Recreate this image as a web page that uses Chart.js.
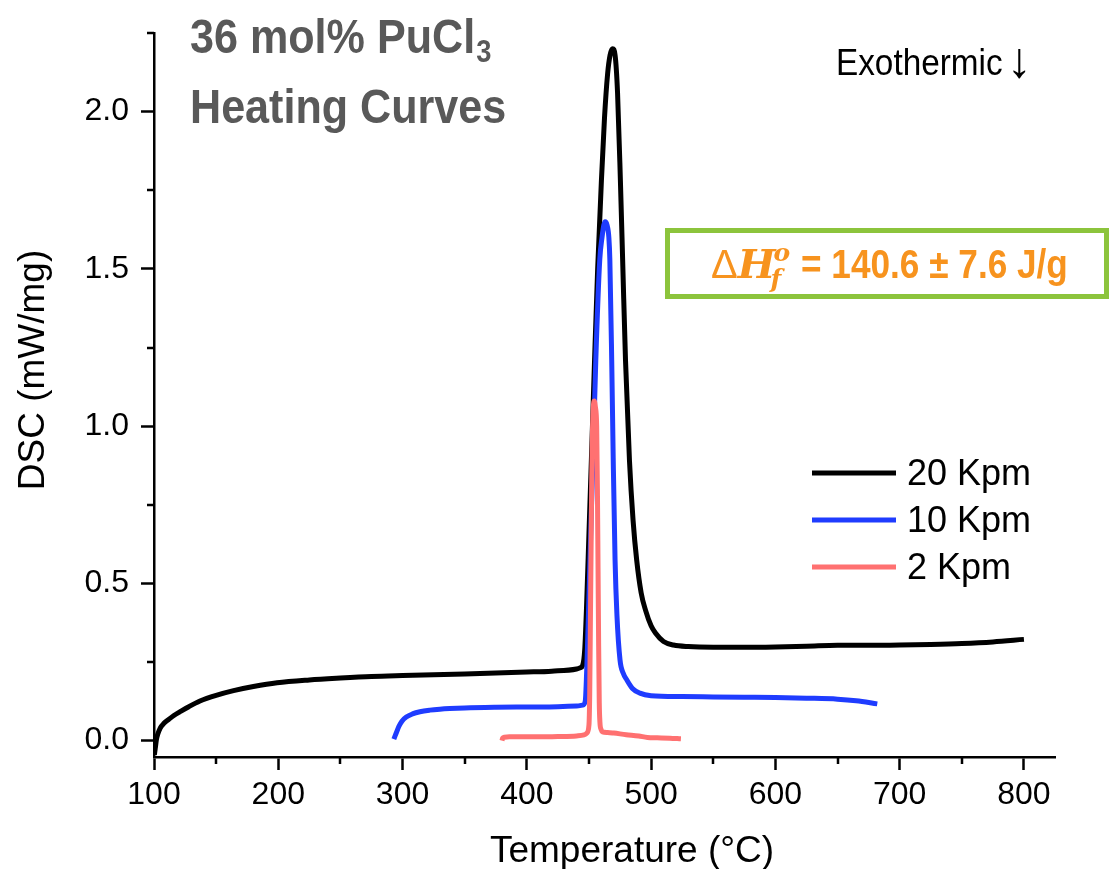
<!DOCTYPE html>
<html>
<head>
<meta charset="utf-8">
<script src="https://cdn.jsdelivr.net/npm/chart.js@4.4.1/dist/chart.umd.min.js"></script>
<style>
  html, body { margin: 0; padding: 0; background: #fff; }
</style>
</head>
<body>
<canvas id="dscChart" width="1110" height="869"></canvas>
<script>
// Series labels and colours
const seriesLabels = ['20 Kpm', '10 Kpm', '2 Kpm'];
const seriesColors = ['#000000', '#1f3cff', '#ff7171'];

// 20 Kpm heating curve (temperature in C, DSC in mW/mg)
const temp20 = [100.3, 101, 102, 103, 105, 108, 112, 116, 121, 128, 137, 150, 164, 180, 199, 225, 250, 275, 300,
  350, 400, 420, 440, 443, 445, 446.6, 448, 450, 452, 454.5, 457, 460, 462.5, 465, 467, 469, 471, 473, 475.3,
  477.3, 479.4, 482.6, 485.5, 488.4, 492, 495.5, 500, 503.5, 510, 518, 530, 550, 575, 600, 625, 650, 675, 700,
  725, 750, 775, 800];
const dsc20 = [-0.045, -0.025, 0.005, 0.02, 0.04, 0.055, 0.068, 0.08, 0.092, 0.108, 0.126, 0.144, 0.159, 0.172, 0.184,
  0.193, 0.199, 0.204, 0.207, 0.212, 0.218, 0.221, 0.228, 0.232, 0.24, 0.29, 0.42, 0.66, 0.9, 1.21, 1.5, 1.78,
  1.98, 2.12, 2.18, 2.2, 2.18, 2.06, 1.78, 1.5, 1.21, 0.89, 0.7, 0.574, 0.47, 0.415, 0.365, 0.342, 0.315, 0.304,
  0.299, 0.297, 0.297, 0.298, 0.3, 0.303, 0.303, 0.304, 0.306, 0.309, 0.314, 0.322];

// 10 Kpm heating curve
const temp10 = [293, 295, 297, 299.5, 303, 308, 314, 322, 330, 338, 350, 375, 400, 425, 440, 445, 447, 448.5, 450,
  452, 454, 455.5, 458.7, 460.5, 462, 463, 464.5, 466, 466.8, 468.3, 469.5, 471, 472.5, 475, 477.5, 480.5, 485,
  491, 500, 525, 550, 575, 600, 625, 650, 665, 682];
const dsc10 = [0.005, 0.025, 0.045, 0.062, 0.075, 0.085, 0.092, 0.097, 0.1, 0.102, 0.104, 0.106, 0.107, 0.108, 0.11,
  0.113, 0.125, 0.26, 0.46, 0.74, 1.0, 1.21, 1.53, 1.6, 1.64, 1.65, 1.64, 1.6, 1.53, 1.21, 0.9, 0.574, 0.4, 0.256,
  0.215, 0.193, 0.166, 0.151, 0.143, 0.14, 0.139, 0.138, 0.137, 0.135, 0.132, 0.127, 0.117];

// 2 Kpm heating curve
const temp2 = [380, 380.5, 382, 386, 395, 410, 425, 440, 446, 448.5, 450, 450.6, 451.2, 451.8, 452.3, 452.8, 453.5,
  454.3, 455.2, 456.2, 456.8, 457.3, 457.8, 458.3, 458.8, 459.8, 461, 465, 470, 480, 490, 497, 505, 515, 524];
const dsc2 = [0.0, 0.008, 0.011, 0.012, 0.012, 0.012, 0.013, 0.015, 0.018, 0.025, 0.05, 0.15, 0.4, 0.65, 0.85, 0.98,
  1.06, 1.08, 1.06, 1.0, 0.8, 0.55, 0.3, 0.12, 0.06, 0.035, 0.028, 0.026, 0.024, 0.019, 0.015, 0.01, 0.009, 0.008,
  0.006];

// Axis ticks
const xTickValues = [100, 200, 300, 400, 500, 600, 700, 800];
const xMinorTicks = [150, 250, 350, 450, 550, 650, 750];
const yTickValues = [0, 0.5, 1.0, 1.5, 2.0];
const yMinorTicks = [0.25, 0.75, 1.25, 1.75, 2.25];

const seriesTemps = [temp20, temp10, temp2];
const seriesDsc = [dsc20, dsc10, dsc2];

const FONT = "'Liberation Sans', Arial, sans-serif";
Chart.defaults.font.family = FONT;
Chart.defaults.color = '#000';

function toPoints(xs, ys) {
    return xs.map((x, i) => ({ x: x, y: ys[i] }));
}

// draw text squeezed horizontally, like a narrow bold face
function narrowText(ctx, text, x, y, squeeze) {
    ctx.save();
    ctx.translate(x, y);
    ctx.scale(squeeze, 1);
    ctx.fillText(text, 0, 0);
    const w = ctx.measureText(text).width * squeeze;
    ctx.restore();
    return w;
}

// Text, minor ticks, legend and the enthalpy box
const decorations = {
    id: 'decorations',
    afterDraw(chart) {
        const ctx = chart.ctx;
        const xs = chart.scales.x;
        const ys = chart.scales.y;
        const area = chart.chartArea;
        ctx.save();

        // minor ticks
        ctx.strokeStyle = '#000';
        ctx.lineWidth = 2.5;
        ctx.beginPath();
        xMinorTicks.forEach(v => {
            const px = Math.round(xs.getPixelForValue(v));
            ctx.moveTo(px, area.bottom);
            ctx.lineTo(px, area.bottom + 7);
        });
        yMinorTicks.forEach(v => {
            const py = Math.round(ys.getPixelForValue(v));
            ctx.moveTo(area.left, py);
            ctx.lineTo(area.left - 7, py);
        });
        ctx.stroke();

        // axis titles
        ctx.fillStyle = '#000';
        ctx.font = '37px ' + FONT;
        ctx.textAlign = 'center';
        ctx.textBaseline = 'alphabetic';
        ctx.fillText('Temperature (\u00B0C)', 632, 862);
        ctx.save();
        ctx.translate(44, 370);
        ctx.rotate(-Math.PI / 2);
        ctx.fillText('DSC (mW/mg)', 0, 0);
        ctx.restore();

        // title
        ctx.textAlign = 'left';
        ctx.fillStyle = '#595959';
        ctx.font = 'bold 49px ' + FONT;
        const w1 = narrowText(ctx, '36 mol% PuCl', 190, 53, 0.88);
        ctx.font = 'bold 31px ' + FONT;
        narrowText(ctx, '3', 190 + w1 + 1, 62, 0.88);
        ctx.font = 'bold 49px ' + FONT;
        narrowText(ctx, 'Heating Curves', 190, 123, 0.88);

        // exothermic note
        ctx.fillStyle = '#000';
        ctx.font = '37px ' + FONT;
        narrowText(ctx, 'Exothermic', 836, 75, 0.9);
        ctx.font = '50px ' + FONT;
        ctx.fillText('\u2193', 1007, 77);

        // enthalpy box
        ctx.strokeStyle = '#8cc43c';
        ctx.lineWidth = 5;
        ctx.strokeRect(667.5, 230.5, 439, 66);
        ctx.fillStyle = '#f7931e';
        let x = 711;
        const base = 278;
        ctx.font = '40px ' + FONT;
        ctx.fillText('\u0394', x, base);
        x += ctx.measureText('\u0394').width;
        ctx.font = 'italic bold 40px "DejaVu Serif", "Liberation Serif", serif';
        ctx.fillText('H', x, base);
        x += ctx.measureText('H').width - 2;
        ctx.font = 'italic bold 25px "DejaVu Serif", "Liberation Serif", serif';
        ctx.fillText('o', x, base - 17);
        ctx.fillText('f', x - 3, base + 9);
        ctx.font = 'bold 40px ' + FONT;
        narrowText(ctx, '= 140.6 \u00B1 7.6 J/g', 801, base, 0.88);

        // legend
        const legendY = [473, 520, 567];
        seriesLabels.forEach((label, i) => {
            ctx.strokeStyle = seriesColors[i];
            ctx.lineWidth = 5;
            ctx.beginPath();
            ctx.moveTo(812, legendY[i]);
            ctx.lineTo(896, legendY[i]);
            ctx.stroke();
            ctx.fillStyle = '#000';
            ctx.font = '36px ' + FONT;
            ctx.textBaseline = 'middle';
            ctx.fillText(label, 907, legendY[i] + 2);
        });

        ctx.restore();
    }
};

const ctx = document.getElementById('dscChart').getContext('2d');
new Chart(ctx, {
    type: 'line',
    data: {
        datasets: seriesLabels.map((label, i) => ({
            label: label,
            data: toPoints(seriesTemps[i], seriesDsc[i]),
            borderColor: seriesColors[i],
            backgroundColor: seriesColors[i],
            borderWidth: 5,
            pointRadius: 0,
            fill: false,
            cubicInterpolationMode: 'monotone',
            borderJoinStyle: 'round',
            order: 2 - i
        }))
    },
    options: {
        responsive: false,
        animation: false,
        devicePixelRatio: 1,
        layout: { padding: { left: 0, right: 55, top: 33, bottom: 0 } },
        plugins: {
            legend: { display: false },
            title: { display: false },
            tooltip: { enabled: false }
        },
        scales: {
            x: {
                type: 'linear',
                min: 100,
                max: 825,
                afterBuildTicks: s => { s.ticks = xTickValues.map(v => ({ value: v })); },
                afterFit: s => { s.height = 112; },
                grid: { drawOnChartArea: false, drawTicks: true, tickLength: 13, tickWidth: 2.5, tickColor: '#000' },
                border: { display: true, color: '#000', width: 2.5 },
                ticks: { padding: 6, color: '#000', font: { size: 32 }, maxRotation: 0, autoSkip: false, callback: v => v }
            },
            y: {
                type: 'linear',
                min: -0.052,
                max: 2.25,
                afterBuildTicks: s => { s.ticks = yTickValues.map(v => ({ value: v })); },
                afterFit: s => { s.width = 154; },
                grid: { drawOnChartArea: false, drawTicks: true, tickLength: 13, tickWidth: 2.5, tickColor: '#000' },
                border: { display: true, color: '#000', width: 2.5 },
                ticks: { padding: 12, color: '#000', font: { size: 32 }, autoSkip: false, callback: v => v.toFixed(1) }
            }
        }
    },
    plugins: [decorations]
});
</script>
</body>
</html>
